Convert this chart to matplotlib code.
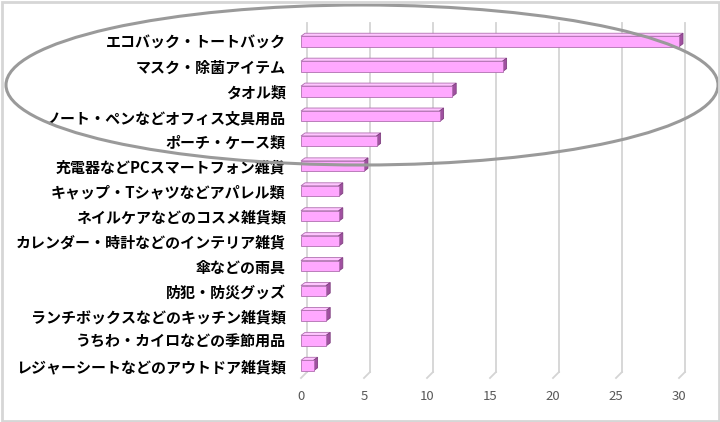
import matplotlib
matplotlib.use("Agg")
import matplotlib.pyplot as plt
from matplotlib.patches import Ellipse, Rectangle, Polygon

plt.rcParams['font.family'] = ['Noto Sans CJK JP', 'DejaVu Sans']

categories = [
    "エコバック・トートバック",
    "マスク・除菌アイテム",
    "タオル類",
    "ノート・ペンなどオフィス文具用品",
    "ポーチ・ケース類",
    "充電器などPCスマートフォン雑貨",
    "キャップ・Tシャツなどアパレル類",
    "ネイルケアなどのコスメ雑貨類",
    "カレンダー・時計などのインテリア雑貨",
    "傘などの雨具",
    "防犯・防災グッズ",
    "ランチボックスなどのキッチン雑貨類",
    "うちわ・カイロなどの季節用品",
    "レジャーシートなどのアウトドア雑貨類",
]
values = [30, 16, 12, 11, 6, 5, 3, 3, 3, 3, 2, 2, 2, 1]
xticks = [0, 5, 10, 15, 20, 25, 30]

W, H = 720, 422
fig = plt.figure(figsize=(W / 100, H / 100), dpi=100)
ax = fig.add_axes([301 / W, 1 - 378 / H, (679 - 301) / W, (378 - 29) / H])
n = len(categories)
ax.set_xlim(0, 30)
ax.set_ylim(n - 0.5, -0.5)

sx = (679 - 301) / 30.0
sy = (378 - 29) / float(n)
def dx(px):
    return px / sx
def dy(px):
    return px / sy

gd = 6
for t in xticks:
    ax.plot([t + dx(gd), t + dx(gd)], [n - 0.5 - dy(gd), -0.5 - dy(gd)],
            color='#D4D4D4', lw=1.3, zorder=1, clip_on=False)
    ax.plot([t, t + dx(gd)], [n - 0.5, n - 0.5 - dy(gd)],
            color='#D4D4D4', lw=1.3, zorder=1, clip_on=False)

h = 0.42
bd = 4
for i, v in enumerate(values):
    y0 = i - h / 2
    y1 = i + h / 2
    top = Polygon([(0, y0), (v, y0), (v + dx(bd), y0 - dy(bd * 0.75)),
                   (dx(bd), y0 - dy(bd * 0.75))], closed=True,
                  facecolor='#FFC6FF', edgecolor='#B070B0', lw=0.6, zorder=3,
                  clip_on=False)
    side = Polygon([(v, y0), (v + dx(bd), y0 - dy(bd * 0.75)),
                    (v + dx(bd), y1 - dy(bd * 0.75)), (v, y1)], closed=True,
                   facecolor='#A050A0', edgecolor='#804080', lw=0.6, zorder=3,
                   clip_on=False)
    ax.add_patch(top)
    ax.add_patch(side)
    ax.barh(i, v, height=h, color='#FFA8FF', edgecolor='#B070B0', lw=0.6,
            zorder=4, clip_on=False)

ax.set_yticks(range(n))
ax.set_yticklabels(categories, fontsize=10.8, fontweight='bold', color='#000000')
ax.set_xticks(xticks)
ax.set_xticklabels([str(t) for t in xticks], fontsize=9.5, color='#595959')
ax.tick_params(axis='y', length=0, pad=11)
ax.tick_params(axis='x', length=0, pad=9)
for lab in ax.get_yticklabels():
    lab.set_y(lab.get_position()[1])
for s in ax.spines.values():
    s.set_visible(False)
ax.patch.set_alpha(0)

ell = Ellipse((362 / W, 1 - 85 / H), 712 / W, 160 / H,
              transform=fig.transFigure, fill=False, edgecolor='#9A9A9A',
              lw=2.2, zorder=10)
fig.add_artist(ell)

frame = Rectangle((1.5 / W, 1.5 / H), (W - 3) / W, (H - 3) / H,
                  transform=fig.transFigure, fill=False, edgecolor='#D6D6D6',
                  lw=2, zorder=11)
fig.add_artist(frame)

fig.savefig("out.png", dpi=100)
